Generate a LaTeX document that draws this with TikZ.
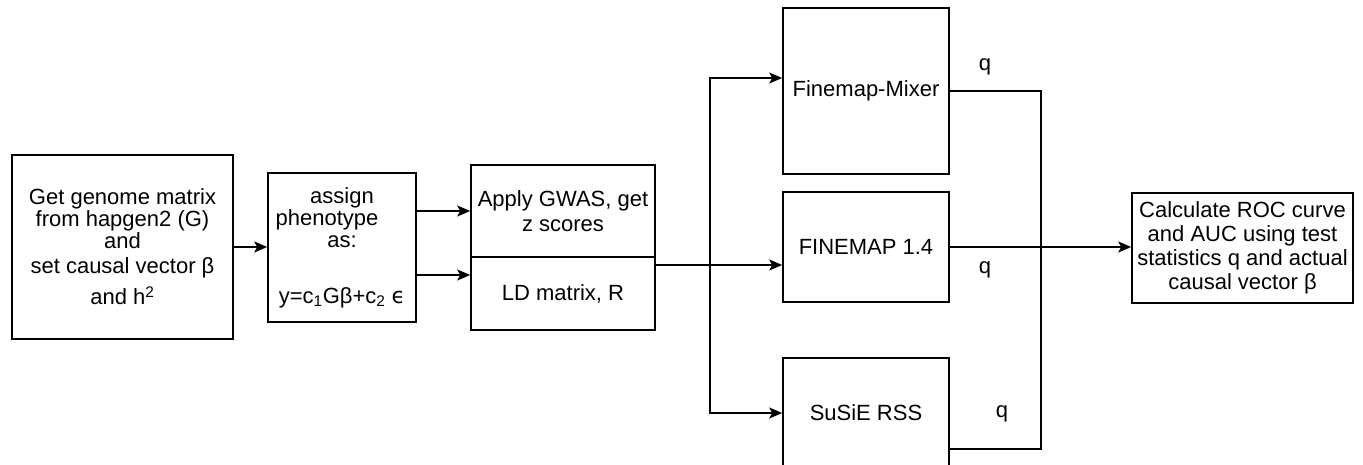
\documentclass[tikz,border=0pt]{standalone}
\usepackage{fontspec}
\setmainfont{Liberation Sans}
\newfontfamily\symfont{DejaVu Sans}
\usetikzlibrary{arrows.meta}
% keep line pitch fixed in the boxes
\setlength{\lineskiplimit}{-50pt}

\tikzset{
  blk/.style={draw, line width=1.6pt, inner sep=0pt, align=center,
    font=\fontsize{22}{24}\selectfont},
  lbl/.style={font=\fontsize{22}{24}\selectfont, inner sep=0pt},
}

\begin{document}
\begin{tikzpicture}[x=1pt, y=1pt, >={Stealth[length=13pt,width=11pt,inset=3pt]}, line width=1.6pt]
\useasboundingbox (0,0) rectangle (1363,-465);
% simulation boxes
\node[blk, minimum width=221pt, minimum height=184pt, font=\fontsize{22}{22}\selectfont] (gen) at (122.5,-247)
  {Get genome matrix\\from hapgen2 (G)\\and\\[3pt]set causal vector β\\[9pt]and h\textsuperscript{2}};
\node[blk, minimum width=148pt, minimum height=149pt, font=\fontsize{22}{22}\selectfont] (pheno) at (342,-247.5)
  {assign\\phenotype\rule{30pt}{0pt}\\as:\\[34pt]y=c\textsubscript{1}Gβ+c\textsubscript{2} {\symfont ϵ}};
\node[blk, minimum width=184pt, minimum height=92pt, font=\fontsize{22}{25}\selectfont] (gwas) at (563,-211)
  {Apply GWAS, get\\z scores};
\node[blk, minimum width=184pt, minimum height=73pt] (ld) at (563,-293.5) {LD matrix, R};
% fine-mapping methods
\node[blk, minimum width=166pt, minimum height=166pt] (mixer) at (866,-91) {Finemap-Mixer};
\node[blk, minimum width=166pt, minimum height=110pt] (fm) at (866,-247) {FINEMAP 1.4};
\node[blk, minimum width=166pt, minimum height=110pt] (susie) at (866,-413) {SuSiE RSS};
\node[blk, minimum width=221pt, minimum height=110pt] (roc) at (1242.5,-248)
  {Calculate ROC curve\\and AUC using test\\statistics q and actual\\causal vector β};

\coordinate (ldin) at (0,-275);
\coordinate (fan) at (710,-265);
\coordinate (merge) at (1041,-91);

\draw[->] (gen.east) -- (gen.east -| pheno.west);
\draw[->] (pheno.east |- gwas.west) -- (gwas.west);
\draw[->] (pheno.east |- ldin) -- (ld.west |- ldin);
\draw (ld.east |- fan) -- (fan);
\draw[->] (fan) |- ([yshift=13pt]mixer.west);
\draw[->] (fan) -- ([yshift=-18pt]fm.west);
\draw[->] (fan) |- (susie.west);
\draw (mixer.east) -- (merge) |- ([yshift=-36pt]susie.east);
\draw[->] (fm.east) -- (fm.east -| roc.west);

\node[lbl] (q1) at (985,-67) {q};
\node[lbl] (q2) at (985,-270) {q};
\node[lbl] (q3) at (1002,-414) {q};
\end{tikzpicture}
\end{document}
